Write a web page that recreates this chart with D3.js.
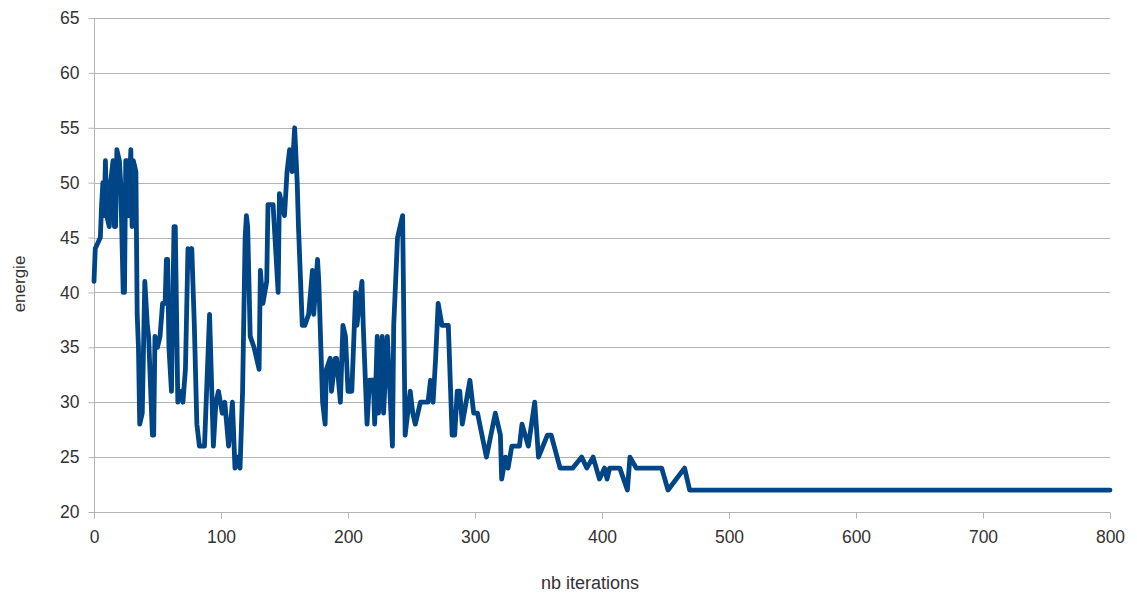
<!doctype html>
<html lang="fr">
<head>
  <meta charset="UTF-8" />
  <script src="https://cdn.jsdelivr.net/npm/d3@7"></script>
  <style>
    body { margin: 0; background: #fff; }
    text { font-family: "Liberation Sans", Arial, sans-serif; fill: #333; }
    .grid line { stroke: #b3b3b3; stroke-width: 1; }
    .axis path, .axis line { stroke: #b3b3b3; }
    path.serie { fill: none; stroke: #004586; stroke-width: 4.8; stroke-linejoin: round; stroke-linecap: round; }
  </style>
  <title>energie</title>
</head>
<body>
  <script>
    // iterations / energie
    var iterations = [0, 1, 5, 6, 7, 8, 9, 10, 12, 13, 15, 16, 17, 18, 20, 21, 23, 24, 25, 26, 27, 29, 30, 31, 33, 34, 35, 36, 38, 40,
      42, 43, 46, 47, 48, 50, 52, 54, 56, 57, 58, 59, 61, 63, 64, 65, 66, 69, 70, 72, 74, 76, 77, 79, 81, 83, 87, 88, 91, 94,
      96, 98, 101, 103, 106, 109, 111, 113, 115, 117, 119, 120, 121, 123, 126, 130, 131, 133, 136, 137, 141, 143, 145, 146, 150, 152, 154, 156, 158, 160,
      161, 164, 166, 169, 172, 173, 176, 177, 180, 182, 183, 186, 187, 190, 191, 194, 196, 198, 200, 203, 206, 207, 211, 212, 215, 217, 220, 221, 223, 224,
      227, 228, 231, 235, 236, 239, 243, 245, 249, 251, 253, 255, 257, 263, 265, 267, 269, 271, 274, 279, 282, 284, 286, 288, 290, 296, 299, 302, 309, 316,
      320, 321, 324, 326, 329, 331, 335, 337, 342, 347, 350, 357, 360, 367, 377, 384, 388, 393, 398, 402, 404, 406, 414, 420, 422, 427, 447, 452, 465, 469, 800];
    var energie = [41, 44, 45, 48, 50, 47, 52, 47, 46, 50, 52, 46, 46, 53, 52, 50, 40, 40, 52, 52, 47, 53, 46, 52, 51, 38, 35, 28, 29, 41,
      37, 36, 27, 27, 36, 35, 36, 39, 39, 43, 43, 35, 31, 46, 46, 38, 30, 31, 30, 33, 44, 43, 44, 37, 28, 26, 26, 29, 38, 26,
      30, 31, 29, 30, 26, 30, 24, 25, 24, 31, 45, 47, 46, 36, 35, 33, 42, 39, 41, 48, 48, 44, 40, 49, 47, 51, 53, 51, 55, 50,
      46, 37, 37, 38, 42, 38, 43, 41, 30, 28, 33, 34, 31, 34, 34, 30, 37, 36, 31, 31, 40, 37, 41, 37, 28, 32, 32, 28, 36, 29,
      36, 29, 36, 26, 37, 45, 47, 27, 31, 29, 28, 29, 30, 30, 32, 30, 34, 39, 37, 37, 27, 27, 31, 31, 28, 32, 29, 29, 25, 29,
      27, 23, 25, 24, 26, 26, 26, 28, 26, 30, 25, 27, 27, 24, 24, 25, 24, 25, 23, 24, 23, 24, 24, 22, 25, 24, 24, 22, 24, 22, 22];

    var xTicks = [0, 100, 200, 300, 400, 500, 600, 700, 800];
    var yTicks = [20, 25, 30, 35, 40, 45, 50, 55, 60, 65];

    var width = 1137, height = 593;
    var margin = { left: 94, right: 27, top: 18, bottom: 81 };

    var svg = d3.select("body").append("svg")
      .attr("width", width).attr("height", height);

    var x = d3.scaleLinear().domain([0, 800]).range([margin.left, width - margin.right]);
    var y = d3.scaleLinear().domain([20, 65]).range([height - margin.bottom, margin.top]);

    // grille
    svg.append("g").attr("class", "grid")
      .selectAll("line").data(yTicks).enter().append("line")
      .attr("x1", x(0)).attr("x2", x(800))
      .attr("y1", function (d) { return Math.round(y(d)) + 0.5; })
      .attr("y2", function (d) { return Math.round(y(d)) + 0.5; });

    var yAxis = svg.append("g").attr("class", "axis")
      .attr("transform", "translate(" + (x(0) + 0.5) + ",0)")
      .call(d3.axisLeft(y).tickValues(yTicks).tickSize(6).tickPadding(9));
    yAxis.select(".domain").remove();
    yAxis.append("line").attr("y1", y(65)).attr("y2", y(20)).attr("stroke", "#b3b3b3");

    var xAxis = svg.append("g").attr("class", "axis")
      .attr("transform", "translate(0," + (Math.round(y(20)) + 0.5) + ")")
      .call(d3.axisBottom(x).tickValues(xTicks).tickSize(6).tickPadding(12));
    xAxis.select(".domain").remove();

    svg.selectAll(".axis text")
      .attr("font-size", 17.5).attr("fill", "#333")
      .attr("font-family", "Liberation Sans, Arial, sans-serif");

    var line = d3.line()
      .x(function (d) { return x(d[0]); })
      .y(function (d) { return y(d[1]); });

    svg.append("path").attr("class", "serie")
      .datum(d3.zip(iterations, energie))
      .attr("d", line);

    svg.append("text")
      .attr("transform", "translate(25,284) rotate(-90)")
      .attr("text-anchor", "middle")
      .attr("font-size", 17)
      .text("energie");

    svg.append("text")
      .attr("x", 590).attr("y", 589)
      .attr("text-anchor", "middle")
      .attr("font-size", 18)
      .text("nb iterations");
  </script>
</body>
</html>
